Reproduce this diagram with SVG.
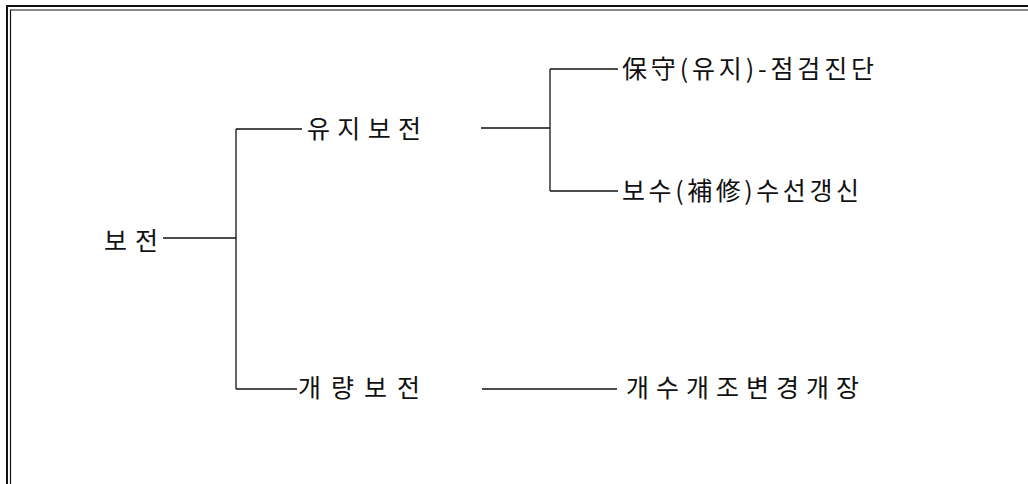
<svg xmlns="http://www.w3.org/2000/svg" width="1028" height="484" viewBox="0 0 1028 484">
<style>
.t{font-family:"Noto Sans CJK KR","Noto Sans CJK SC",sans-serif;font-size:25px;fill:#111;dominant-baseline:central}
.c{stroke:#111;stroke-width:1.3;fill:none}
.f{stroke:#111;fill:none}
</style>
<rect width="1028" height="484" fill="#fff"/>
<g id="frame">
<path class="f" stroke-width="2" d="M7,484 V6 H1028"/>
<path class="f" stroke-width="1.2" d="M10.5,484 V10 H1028"/>
</g>
<g id="connectors">
<path class="c" d="M163,238 H236"/>
<path class="c" d="M236,129 V389"/>
<path class="c" d="M236,129 H302"/>
<path class="c" d="M236,389 H297"/>
<path class="c" d="M481,128 H550"/>
<path class="c" d="M550,69 V191"/>
<path class="c" d="M550,69 H618"/>
<path class="c" d="M550,191 H618"/>
<path class="c" d="M482,389 H617"/>
</g>
<g id="n-bojeon"><text class="t" x="104" y="239" textLength="54" lengthAdjust="spacing">보전</text></g>
<g id="n-yuji"><text class="t" x="307" y="127" textLength="114" lengthAdjust="spacing">유지보전</text></g>
<g id="n-gaeryang"><text class="t" x="298" y="386" textLength="122" lengthAdjust="spacing">개량보전</text></g>
<g id="n-bosu1"><text class="t" x="622" y="67" textLength="252" lengthAdjust="spacing">保守(유지)-점검진단</text></g>
<g id="n-bosu2"><text class="t" x="622" y="189" textLength="237" lengthAdjust="spacing">보수(補修)수선갱신</text></g>
<g id="n-gaesu"><text class="t" x="626" y="386" textLength="233" lengthAdjust="spacing">개수개조변경개장</text></g>
</svg>
